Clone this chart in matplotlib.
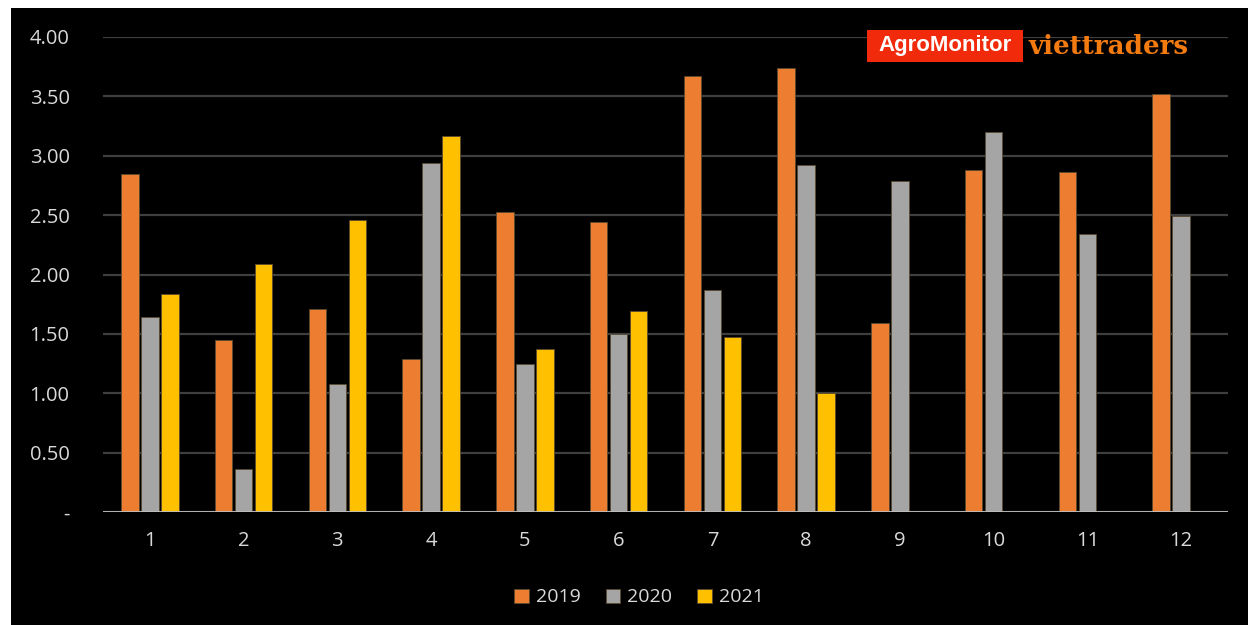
import numpy as np
import matplotlib.pyplot as plt
from matplotlib.patches import Rectangle

months = [1, 2, 3, 4, 5, 6, 7, 8, 9, 10, 11, 12]
y2019 = [2.85, 1.45, 1.71, 1.29, 2.53, 2.44, 3.67, 3.74, 1.59, 2.88, 2.86, 3.52]
y2020 = [1.64, 0.36, 1.08, 2.94, 1.25, 1.50, 1.87, 2.92, 2.79, 3.20, 2.34, 2.49]
y2021 = [1.84, 2.09, 2.46, 3.17, 1.37, 1.69, 1.47, 1.00]
years = ['2019', '2020', '2021']
colors = ['#ED7D31', '#A5A5A5', '#FFC000']
yticks = [0, 0.5, 1.0, 1.5, 2.0, 2.5, 3.0, 3.5, 4.0]

plt.rcParams['font.family'] = ['Open Sans', 'DejaVu Sans']

fig = plt.figure(figsize=(12.48, 6.25), dpi=100)
fig.patch.set_facecolor('white')
fig.patches.append(Rectangle((11 / 1248, 0), 1 - 11 / 1248, 1 - 8 / 625,
                             transform=fig.transFigure, facecolor='black',
                             edgecolor='none', zorder=-5))

ax = fig.add_axes([103 / 1248, 113 / 625, 1125 / 1248, 475 / 625])
ax.set_facecolor('black')

x = np.array(months, dtype=float)
step = 0.213
width = 0.185
series = [y2019, y2020, y2021]
for i, (vals, c, lab) in enumerate(zip(series, colors, years)):
    xs = x[:len(vals)] + (i - 1) * step
    ax.bar(xs, vals, width=width, color=c, edgecolor='#5a4a30', linewidth=0.6,
           label=lab, zorder=3)

ax.set_xlim(0.5, 12.5)
ax.set_ylim(0, 4.0)
ax.set_yticks(yticks)
ax.set_yticklabels(['-' if v == 0 else '%.2f' % v for v in yticks])
ax.set_xticks(months)
ax.set_xticklabels([str(m) for m in months])
ax.yaxis.grid(True, color='#3f3f3f', linewidth=1.6, zorder=0)
ax.set_axisbelow(True)
ax.axhline(0, color='#BFBFBF', linewidth=2, zorder=4)
for s in ax.spines.values():
    s.set_visible(False)
ax.tick_params(axis='both', length=0, colors='#D9D9D9', labelsize=14.5)
ax.tick_params(axis='y', pad=24)
ax.tick_params(axis='x', pad=14)

fig.legend(loc='center', bbox_to_anchor=(0.512, 0.044), ncol=3, frameon=False,
           fontsize=14, labelcolor='#D9D9D9', handlelength=0.75,
           handleheight=0.75, handletextpad=0.35, columnspacing=1.3)

# logo
fig.patches.append(Rectangle((867 / 1248, 1 - 62 / 625), 156 / 1248, 32 / 625,
                             transform=fig.transFigure, facecolor='#F02A0A',
                             edgecolor='none', zorder=5))
fig.text(945 / 1248, 1 - 46 / 625, 'AgroMonitor', color='white',
         family='Liberation Sans', fontweight='bold', fontsize=16,
         ha='center', va='center', zorder=6)
fig.text(1028 / 1248, 1 - 47 / 625, 'viettraders', color='#F47B0F',
         family='DejaVu Serif', fontweight='bold', fontsize=18.8,
         ha='left', va='center', zorder=6)

fig.savefig('out.png', dpi=100, facecolor=fig.get_facecolor())
